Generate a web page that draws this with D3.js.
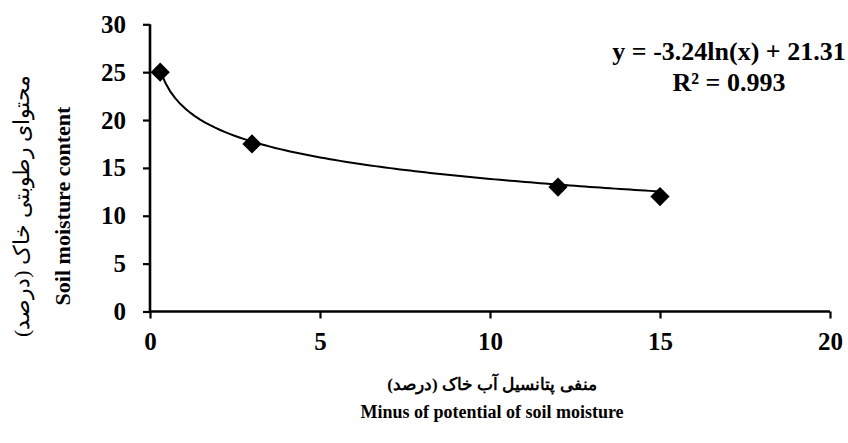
<!DOCTYPE html>
<html><head><meta charset="utf-8">
<script src="https://cdn.jsdelivr.net/npm/d3@7"></script>
<style>body{margin:0;background:#fff}svg{display:block}</style>
</head><body>
<svg id="c" width="848" height="443"></svg>
<script>
const xValues = [0.3, 3, 12, 15];
const yValues = [25, 17.5, 13, 12];
const xTicks = [0, 5, 10, 15, 20];
const yTicks = [0, 5, 10, 15, 20, 25, 30];
const trendCoef = [-3.24, 21.31]; // y = a ln(x) + b
const eqLines = ["y = -3.24ln(x) + 21.31", "R² = 0.993"];
const yTitle = ["محتوای رطوبتی خاک (درصد)", "Soil moisture content"];
const xTitle = ["منفی پتانسیل آب خاک (درصد)", "Minus of potential of soil moisture"];

const svg = d3.select("#c");
const serif = "Liberation Serif";
const x = d3.scaleLinear().domain([0, 20]).range([150, 830]);
const y = d3.scaleLinear().domain([0, 30]).range([311.5, 24.3]);

const gx = svg.append("g").attr("transform", `translate(0,${y(0)})`)
  .call(d3.axisBottom(x).tickValues(xTicks).tickSize(7).tickPadding(14).tickFormat(d3.format("d")));
const gy = svg.append("g").attr("transform", `translate(${x(0)},0)`)
  .call(d3.axisLeft(y).tickValues(yTicks).tickSize(7).tickPadding(17).tickFormat(d3.format("d")));
[gx, gy].forEach(g => {
  g.attr("font-family", serif).attr("font-size", 25).attr("font-weight", "bold");
  g.select(".domain").attr("stroke", "#000").attr("stroke-width", 2.6);
  g.selectAll(".tick line").attr("stroke", "#000").attr("stroke-width", 2.2);
  g.selectAll(".tick text").attr("fill", "#000");
});
gx.select(".domain").attr("d", `M${x(0)},0H${x(20)}`);
gy.select(".domain").attr("d", `M0,${y(30)}V${y(0)}`);

// trendline
const xs = d3.range(0, 101).map(i => xValues[0] + (xValues[xValues.length-1] - xValues[0]) * i / 100);
const line = d3.line().x(d => x(d)).y(d => y(trendCoef[0] * Math.log(d) + trendCoef[1]));
svg.append("path").datum(xs).attr("d", line).attr("fill", "none").attr("stroke", "#000").attr("stroke-width", 2);

// markers
svg.selectAll(".pt").data(xValues).join("path").attr("class", "pt")
  .attr("d", d3.symbol(d3.symbolSquare, 185)())
  .attr("transform", (d, i) => `translate(${x(d)},${y(yValues[i])}) rotate(45)`)
  .attr("fill", "#000");

// equation
svg.selectAll(".eq").data(eqLines).join("text").attr("class", "eq")
  .attr("x", 729).attr("y", (d, i) => 60 + i * 31)
  .attr("text-anchor", "middle").attr("font-family", serif).attr("font-weight", "bold")
  .attr("font-size", 26).text(d => d);

// y title
const yt = svg.append("g").attr("transform", "translate(0,206) rotate(-90)");
yt.append("text").attr("x", 0).attr("y", 29).attr("text-anchor", "middle")
  .attr("font-family", serif).attr("font-size", 22).attr("direction", "rtl").text(yTitle[0]);
yt.append("text").attr("x", 0).attr("y", 70).attr("text-anchor", "middle")
  .attr("font-family", serif).attr("font-weight", "bold").attr("font-size", 22).text(yTitle[1]);

// x title
svg.append("text").attr("x", 492).attr("y", 390).attr("text-anchor", "middle")
  .attr("font-family", serif).attr("font-weight", "bold").attr("font-size", 17).attr("direction", "rtl").text(xTitle[0]);
svg.append("text").attr("x", 492).attr("y", 418).attr("text-anchor", "middle")
  .attr("font-family", serif).attr("font-weight", "bold").attr("font-size", 18).text(xTitle[1]);
</script>
</body></html>
